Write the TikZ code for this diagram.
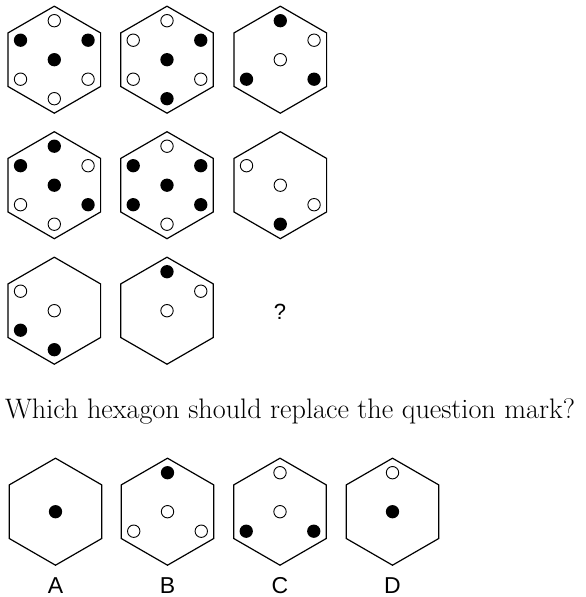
\documentclass[tikz,border=0pt]{standalone}
\usepackage{fontspec}
\newfontfamily\labelfont{Liberation Sans}
\usetikzlibrary{shapes.geometric}

\tikzset{
  % --- shapes
  hexa/.style = {draw=black, line width=1.2pt, regular polygon, regular polygon sides=6,
                 shape border rotate=30, minimum size=107pt, inner sep=0pt, outer sep=0pt},
  full/.style = {circle, fill=black, minimum size=13.3pt, inner sep=0pt},
  hole/.style = {circle, draw=black, fill=white, line width=0.9pt, minimum size=12.4pt,
                 inner sep=0pt},
  % --- text
  optlbl/.style = {anchor=base, font=\labelfont\fontsize{23}{26}\selectfont},
  quest/.style  = {anchor=base, font=\fontsize{28.2}{33}\selectfont},
}

\begin{document}
\begin{tikzpicture}[x=1pt,y=1pt]
  \useasboundingbox (0,0) rectangle (586,-597);

  % puzzle, row 1
  \node[hexa] (h11) at (54.3,-59.7) {};
  \node[hexa] (h12) at (167,-59.7) {};
  \node[hexa] (h13) at (280.3,-59.7) {};
  \foreach \a/\s in {90/hole,150/full,30/full,210/hole,330/hole,270/hole}
    \node[\s] (h11-\a) at ([shift={(\a:39)}]h11.center) {};
  \node[full] (h11-c) at (h11.center) {};
  \foreach \a/\s in {90/hole,150/hole,30/full,210/hole,330/hole,270/full}
    \node[\s] (h12-\a) at ([shift={(\a:39)}]h12.center) {};
  \node[full] (h12-c) at (h12.center) {};
  \foreach \a/\s in {90/full,30/hole,210/full,330/full}
    \node[\s] (h13-\a) at ([shift={(\a:39)}]h13.center) {};
  \node[hole] (h13-c) at (h13.center) {};

  % puzzle, row 2
  \node[hexa] (h21) at (54.3,-185.2) {};
  \node[hexa] (h22) at (167,-185.2) {};
  \node[hexa] (h23) at (280.3,-185.2) {};
  \foreach \a/\s in {90/full,150/full,30/hole,210/hole,330/full,270/hole}
    \node[\s] (h21-\a) at ([shift={(\a:39)}]h21.center) {};
  \node[full] (h21-c) at (h21.center) {};
  \foreach \a/\s in {90/hole,150/full,30/full,210/full,330/full,270/hole}
    \node[\s] (h22-\a) at ([shift={(\a:39)}]h22.center) {};
  \node[full] (h22-c) at (h22.center) {};
  \foreach \a/\s in {150/hole,330/hole,270/full}
    \node[\s] (h23-\a) at ([shift={(\a:39)}]h23.center) {};
  \node[hole] (h23-c) at (h23.center) {};

  % puzzle, row 3
  \node[hexa] (h31) at (54.3,-310.7) {};
  \node[hexa] (h32) at (167,-310.7) {};
  \foreach \a/\s in {150/hole,210/full,270/full}
    \node[\s] (h31-\a) at ([shift={(\a:39)}]h31.center) {};
  \node[hole] (h31-c) at (h31.center) {};
  \foreach \a/\s in {90/full,30/hole}
    \node[\s] (h32-\a) at ([shift={(\a:39)}]h32.center) {};
  \node[hole] (h32-c) at (h32.center) {};
  \node[font=\labelfont\fontsize{22}{26}\selectfont] (qm) at (280,-311.5) {?};

  \node[quest] (ask) at (290,-418.5) {Which hexagon should replace the question mark?};

  % answers
  \node[hexa] (ha) at (55.5,-511.7) {};
  \node[hexa] (hb) at (167.5,-511.7) {};
  \node[hexa] (hc) at (280,-511.7) {};
  \node[hexa] (hd) at (392.5,-511.7) {};
  \node[full] (ha-c) at (ha.center) {};
  \foreach \a/\s in {90/full,210/hole,330/hole}
    \node[\s] (hb-\a) at ([shift={(\a:39)}]hb.center) {};
  \node[hole] (hb-c) at (hb.center) {};
  \foreach \a/\s in {90/hole,210/full,330/full}
    \node[\s] (hc-\a) at ([shift={(\a:39)}]hc.center) {};
  \node[hole] (hc-c) at (hc.center) {};
  \node[hole] (hd-90) at ([shift={(90:39)}]hd.center) {};
  \node[full] (hd-c) at (hd.center) {};

  \node[optlbl] (la) at (55.5,-593.3) {A};
  \node[optlbl] (lb) at (167.5,-593.3) {B};
  \node[optlbl] (lc) at (280,-593.3) {C};
  \node[optlbl] (ld) at (392.5,-593.3) {D};
\end{tikzpicture}
\end{document}
